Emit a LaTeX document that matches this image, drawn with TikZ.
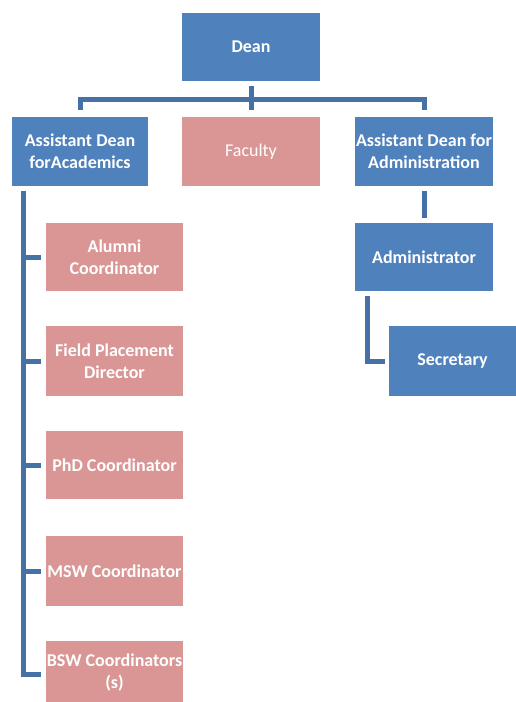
\documentclass[tikz,border=0pt]{standalone}
\usepackage{fontspec}
\setmainfont{Carlito}
\definecolor{boxblue}{HTML}{4F81BD}
\definecolor{boxpink}{HTML}{D99694}
\definecolor{connblue}{HTML}{4571A6}
\begin{document}
\begin{tikzpicture}[x=1pt,y=-1pt,
  box/.style={draw=none,inner sep=0pt,outer sep=0pt,text=white,align=center,
    font=\fontsize{18}{22}\selectfont\bfseries},
  bluebox/.style={box,fill=boxblue},
  pinkbox/.style={box,fill=boxpink},
  conn/.style={draw=connblue,line width=5pt,line join=miter}]
\useasboundingbox (0,0) rectangle (516,702);
\fill[white] (0,0) rectangle (516,702);
% top level
\node[bluebox,minimum width=138pt,minimum height=68pt] (dean) at (251,47) {Dean};
\node[bluebox,minimum width=136pt,minimum height=69pt] (acad) at (80,151.5) {Assistant Dean\\forAcademics};
\node[pinkbox,minimum width=138pt,minimum height=69pt,font=\fontsize{18}{22}\selectfont] (fac) at (251,151.5) {Faculty};
\node[bluebox,minimum width=138pt,minimum height=69pt] (adm) at (424,151.5) {Assistant Dean for\\Administration};
% academics children
\node[pinkbox,minimum width=137pt,minimum height=68pt] (alum) at (114.5,257) {Alumni\\Coordinator};
\node[pinkbox,minimum width=137pt,minimum height=70pt] (field) at (114.5,361) {Field Placement\\Director};
\node[pinkbox,minimum width=137pt,minimum height=68pt] (phd) at (114.5,465) {PhD Coordinator};
\node[pinkbox,minimum width=137pt,minimum height=70pt] (msw) at (114.5,571) {MSW Coordinator};
\node[pinkbox,minimum width=137pt,minimum height=64pt] (bsw) at (114.5,673) {BSW Coordinators\\(s)};
% administration children
\node[bluebox,minimum width=138pt,minimum height=68pt] (admr) at (424,257) {Administrator};
\node[bluebox,minimum width=127pt,minimum height=70pt] (sec) at (452.5,361) {Secretary};
% connectors
\coordinate (hbar) at (251,99);
\coordinate (lt) at (23,191);
\draw[conn] ([yshift=-5pt]dean.south) -- ([yshift=7pt]fac.north);
\draw[conn] ([yshift=7pt]acad.north) |- (hbar) -| ([yshift=7pt]adm.north);
\draw[conn] (lt) |- ([xshift=-5pt]alum.west);
\draw[conn] (lt) |- ([xshift=-5pt]field.west);
\draw[conn] (lt) |- ([xshift=-5pt]phd.west);
\draw[conn] (lt) |- ([xshift=-5pt]msw.west);
\draw[conn] (lt) |- ([xshift=-5pt,yshift=-1pt]bsw.west);
\draw[conn] ([yshift=-5pt]adm.south) -- ([yshift=5pt]admr.north);
\draw[conn] ([shift={(12pt,-5pt)}]admr.south west) |- ([xshift=-4pt]sec.west);
\end{tikzpicture}
\end{document}
